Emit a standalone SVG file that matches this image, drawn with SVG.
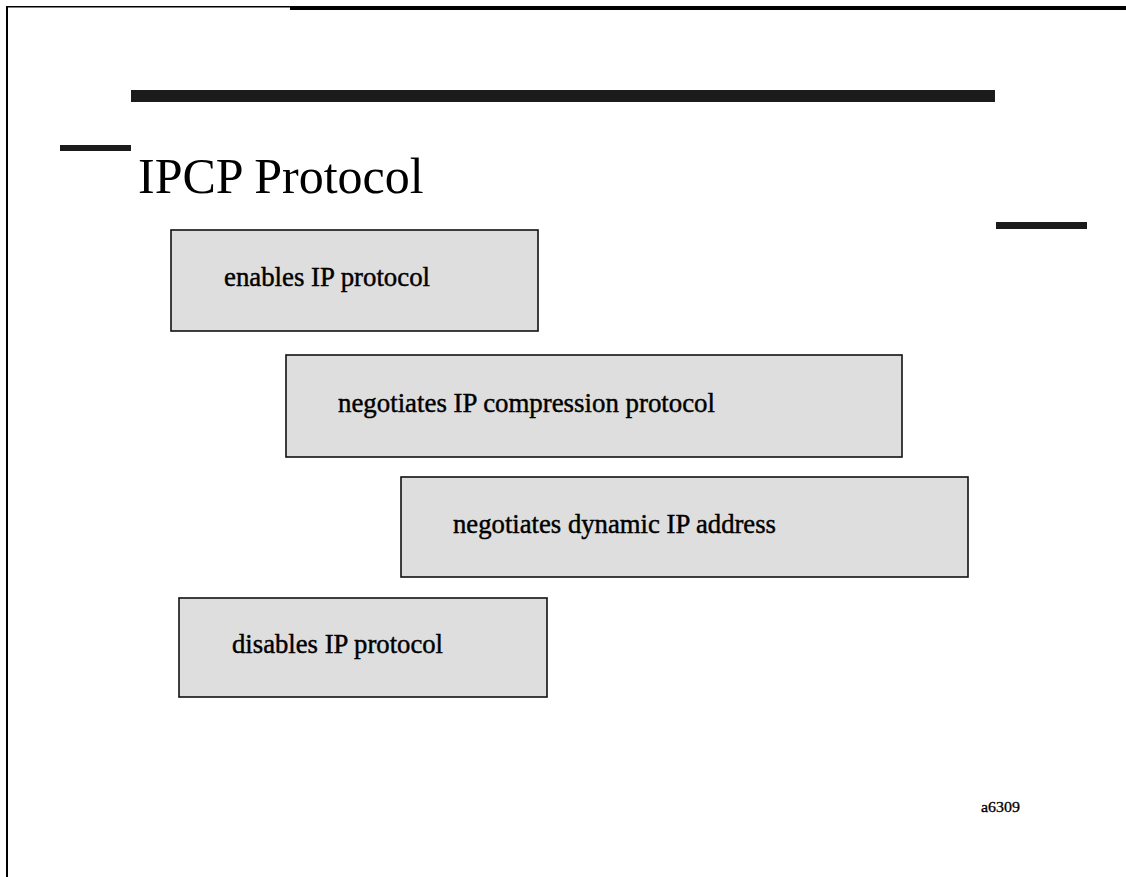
<svg xmlns="http://www.w3.org/2000/svg" width="1126" height="877" viewBox="0 0 1126 877">
  <style>
    .frame { fill: #000; }
    .bar { fill: #1b1b1b; }
    .box rect { fill: #dedede; stroke: #111; stroke-width: 1.6; }
    .box text { font-family: "Liberation Serif", "Times New Roman", serif; font-size: 27px; fill: #000; stroke: #000; stroke-width: 0.45; }
    .title { font-family: "Liberation Serif", "Times New Roman", serif; font-size: 50px; fill: #000; }
    .ref { font-family: "Liberation Serif", "Times New Roman", serif; font-size: 15px; fill: #000; stroke: #000; stroke-width: 0.3; }
  </style>

  <!-- page frame -->
  <rect class="frame" x="6" y="6" width="2" height="871"/>
  <rect class="frame" x="6" y="6" width="284" height="1.5"/>
  <rect class="frame" x="290" y="6" width="836" height="4"/>

  <!-- heading bars -->
  <rect class="bar" x="131" y="90" width="864" height="12"/>
  <rect class="bar" x="60" y="145" width="71" height="6"/>
  <rect class="bar" x="996" y="222" width="91" height="7"/>

  <text class="title" x="138" y="193">IPCP Protocol</text>

  <g id="enable" class="box">
    <rect x="171" y="230" width="367" height="101"/>
    <text x="224" y="286" textLength="206" lengthAdjust="spacingAndGlyphs">enables IP protocol</text>
  </g>
  <g id="compression" class="box">
    <rect x="286" y="355" width="616" height="102"/>
    <text x="338" y="412" textLength="377" lengthAdjust="spacingAndGlyphs">negotiates IP compression protocol</text>
  </g>
  <g id="address" class="box">
    <rect x="401" y="477" width="567" height="100"/>
    <text x="453" y="533" textLength="323" lengthAdjust="spacingAndGlyphs">negotiates dynamic IP address</text>
  </g>
  <g id="disable" class="box">
    <rect x="179" y="598" width="368" height="99"/>
    <text x="232" y="653" textLength="211" lengthAdjust="spacingAndGlyphs">disables IP protocol</text>
  </g>

  <text class="ref" x="981" y="812" textLength="39" lengthAdjust="spacingAndGlyphs">a6309</text>
</svg>
